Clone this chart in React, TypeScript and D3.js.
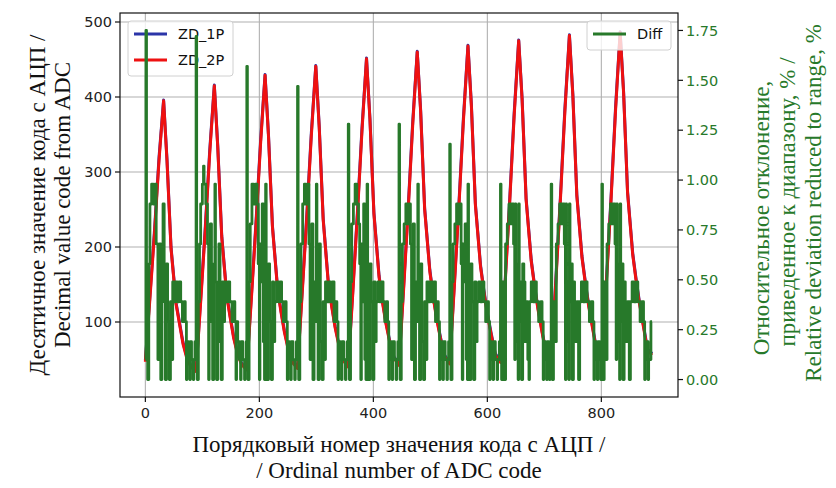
import React from "react";
import * as d3 from "d3";

// ZD_1P / ZD_2P: ADC code, sampled at these indices
const zdX = [
  0, 8, 16, 24, 32, 38, 45, 54, 60, 66, 73, 80,
  89, 97, 105, 113, 121, 127, 134, 143, 149, 155, 162, 169,
  178, 186, 194, 202, 210, 216, 223, 232, 238, 244, 251, 258,
  267, 275, 283, 291, 299, 305, 312, 321, 327, 333, 340, 347,
  356, 364, 372, 380, 388, 394, 401, 410, 416, 422, 429, 436,
  445, 453, 461, 469, 477, 483, 490, 499, 505, 511, 518, 525,
  534, 542, 550, 558, 566, 572, 579, 588, 594, 600, 607, 614,
  623, 631, 639, 647, 655, 661, 668, 677, 683, 689, 696, 703,
  712, 720, 728, 736, 744, 750, 757, 766, 772, 778, 785, 792,
  801, 809, 817, 825, 833, 839, 846, 855, 861, 867, 874, 881,
  889,
];

const zd1P = [
  49, 135, 222, 320, 396, 316, 200, 125, 99, 73, 53, 42,
  36, 130, 225, 330, 416, 335, 215, 135, 107, 80, 58, 45,
  38, 135, 232, 340, 430, 350, 228, 145, 115, 88, 64, 48,
  40, 140, 240, 350, 442, 362, 238, 153, 122, 94, 69, 51,
  42, 143, 246, 358, 452, 372, 246, 162, 128, 100, 74, 54,
  44, 146, 251, 366, 461, 382, 252, 170, 135, 106, 79, 56,
  46, 150, 256, 372, 469, 390, 258, 176, 142, 112, 84, 58,
  48, 152, 260, 378, 476, 398, 265, 183, 148, 118, 88, 60,
  49, 155, 264, 384, 483, 404, 270, 188, 153, 122, 92, 62,
  50, 157, 266, 387, 487, 408, 274, 192, 157, 126, 95, 64,
  58,
];

const zd2P = [
  47, 131, 218, 316, 395, 314, 198, 123, 97, 71, 51, 40,
  34, 126, 221, 326, 415, 333, 213, 133, 105, 78, 56, 43,
  36, 131, 228, 336, 429, 348, 226, 143, 113, 86, 62, 46,
  38, 136, 236, 346, 441, 360, 236, 151, 120, 92, 67, 49,
  40, 139, 242, 354, 451, 370, 244, 160, 126, 98, 72, 52,
  42, 142, 247, 362, 460, 380, 250, 168, 133, 104, 77, 54,
  44, 146, 252, 368, 468, 388, 256, 174, 140, 110, 82, 56,
  46, 148, 256, 374, 475, 396, 263, 181, 146, 116, 86, 58,
  47, 151, 260, 380, 482, 402, 268, 186, 151, 120, 90, 60,
  48, 153, 262, 383, 486, 406, 272, 190, 155, 124, 93, 62,
  56,
];

// Diff, %: [index where value changes, value]
const diffPoints: [number, number][] = [
  [0, 0.1], [1, 1.75], [2, 0.29], [4, 0], [6, 0.58], [8, 0.88], [11, 0.98], [14, 0.88], [17, 0.98], [19, 0.68],
  [22, 0.1], [23, 0.58], [25, 0.68], [27, 0], [29, 0.49], [31, 0.88], [33, 0.39], [35, 0], [37, 0.58], [39, 0.29],
  [42, 0], [44, 0.39], [46, 0.1], [48, 0.49], [51, 0.39], [53, 0.49], [56, 0.39], [59, 0.49], [62, 0.39], [65, 0.29],
  [68, 0.39], [70, 0.29], [72, 0], [73, 0.19], [76, 0.1], [78, 0], [79, 0.19], [81, 0.1], [84, 0], [85, 0.1], [87, 0.19],

  [89, 1.72], [90, 0.19], [91, 0], [93, 0.39], [95, 0.68], [97, 0.88], [100, 0.98], [102, 1.07], [103, 0.98], [106, 0.88],
  [109, 0.68], [111, 0], [112, 0.58], [114, 0.78], [116, 0.29], [118, 0], [120, 0.58], [122, 0.98], [123, 0.49], [125, 0],
  [127, 0.39], [129, 0.68], [131, 0.19], [133, 0], [135, 0.49], [137, 0.29], [139, 0.49], [142, 0.39], [145, 0.49], [148, 0.39],
  [152, 0.29], [155, 0.39], [157, 0.29], [159, 0], [160, 0.29], [162, 0.19], [165, 0.1], [167, 0], [168, 0.19], [171, 0.1],
  [174, 0], [175, 0.1], [177, 0.19],

  [178, 1.57], [179, 0.1], [180, 0], [182, 0.49], [184, 0.78], [187, 0.98], [190, 0.88], [193, 0.98], [196, 0.88], [198, 0.58],
  [200, 0], [201, 0.68], [203, 0.49], [205, 0.88], [207, 0.19], [209, 0], [211, 0.98], [212, 0.39], [214, 0], [216, 0.58],
  [218, 0.29], [221, 0], [223, 0.49], [225, 0.19], [227, 0.39], [230, 0.49], [233, 0.39], [236, 0.49], [239, 0.39], [242, 0.29],
  [245, 0.39], [247, 0.29], [249, 0], [250, 0.19], [253, 0.1], [255, 0], [256, 0.19], [259, 0.1], [262, 0], [263, 0.1], [265, 0.19],

  [267, 1.47], [268, 0.19], [269, 0], [271, 0.39], [273, 0.68], [276, 0.88], [279, 0.98], [282, 0.88], [285, 0.98], [287, 0.68],
  [289, 0.1], [290, 0.58], [292, 0.78], [294, 0], [296, 0.49], [298, 0.29], [300, 0.98], [301, 0.49], [303, 0], [305, 0.68],
  [307, 0.19], [310, 0], [312, 0.39], [314, 0.1], [316, 0.49], [319, 0.39], [322, 0.49], [325, 0.39], [328, 0.49], [331, 0.29],
  [334, 0.39], [336, 0.29], [338, 0], [339, 0.19], [342, 0.1], [344, 0], [345, 0.19], [348, 0.1], [351, 0], [352, 0.1], [354, 0.19],

  [356, 1.28], [357, 0.1], [358, 0], [360, 0.49], [362, 0.78], [365, 0.88], [368, 0.98], [371, 0.88], [374, 0.78], [376, 0.58],
  [378, 0], [379, 0.68], [381, 0.39], [383, 0.88], [385, 0.1], [387, 0], [389, 0.98], [390, 0.29], [392, 0], [394, 0.58],
  [396, 0.39], [399, 0], [401, 0.49], [403, 0.19], [405, 0.39], [408, 0.49], [411, 0.39], [414, 0.49], [417, 0.39], [420, 0.29],
  [423, 0.39], [425, 0.29], [427, 0], [428, 0.19], [431, 0.1], [433, 0], [434, 0.19], [437, 0.1], [440, 0], [441, 0.1], [443, 0.19],

  [445, 1.28], [446, 0.19], [447, 0], [449, 0.39], [451, 0.68], [454, 0.78], [457, 0.88], [460, 0.78], [463, 0.88], [465, 0.68],
  [467, 0.1], [468, 0.58], [470, 0.78], [472, 0], [474, 0.49], [476, 0.29], [478, 0.98], [479, 0.39], [481, 0], [483, 0.58],
  [485, 0.19], [488, 0], [490, 0.39], [492, 0.1], [494, 0.49], [497, 0.39], [500, 0.49], [503, 0.39], [506, 0.49], [509, 0.29],
  [512, 0.39], [514, 0.29], [516, 0], [517, 0.19], [520, 0.1], [522, 0], [523, 0.19], [526, 0.1], [529, 0], [530, 0.1], [532, 0.19],

  [534, 1.18], [535, 0.1], [536, 0], [538, 0.49], [540, 0.68], [543, 0.78], [546, 0.88], [549, 0.78], [552, 0.88], [554, 0.58],
  [556, 0], [557, 0.68], [559, 0.49], [561, 0.78], [563, 0.1], [565, 0], [566, 0.98], [567, 0.29], [569, 0], [571, 0.58],
  [573, 0.39], [576, 0], [578, 0.49], [580, 0.19], [582, 0.39], [585, 0.49], [588, 0.39], [591, 0.49], [594, 0.39], [597, 0.29],
  [600, 0.39], [602, 0.29], [604, 0], [605, 0.19], [608, 0.1], [610, 0], [611, 0.19], [614, 0.1], [617, 0], [618, 0.1], [621, 0.19],

  [623, 0.98], [624, 0.19], [625, 0], [627, 0.49], [629, 0], [632, 0.68], [635, 0.78], [638, 0.88], [641, 0.78], [643, 0.88],
  [646, 0.68], [648, 0.1], [649, 0.88], [650, 0.58], [652, 0.19], [654, 0], [655, 0.88], [656, 0.29], [658, 0.49], [660, 0],
  [662, 0.58], [664, 0.49], [666, 0.19], [668, 0.39], [671, 0.1], [673, 0], [674, 0.39], [677, 0.49], [680, 0.39], [684, 0.49],
  [686, 0.39], [690, 0.29], [694, 0.39], [696, 0.29], [698, 0], [699, 0.19], [702, 0.1], [704, 0], [705, 0.19], [708, 0.1],
  [709, 0], [710, 0.1],

  [712, 0.98], [713, 0.1], [714, 0], [716, 0.39], [718, 0.19], [721, 0.68], [724, 0.78], [727, 0.88], [730, 0.78], [732, 0.88],
  [735, 0.68], [737, 0], [738, 0.88], [739, 0.49], [741, 0.19], [743, 0], [744, 0.88], [745, 0.39], [747, 0.58], [749, 0],
  [751, 0.49], [753, 0.29], [755, 0.19], [757, 0.39], [760, 0], [762, 0.39], [765, 0.49], [768, 0.39], [772, 0.49], [775, 0.39],
  [779, 0.29], [782, 0.39], [785, 0.29], [787, 0], [788, 0.19], [791, 0.1], [793, 0], [794, 0.19], [797, 0.1], [799, 0], [800, 0.1],

  [801, 0.98], [802, 0.19], [803, 0], [805, 0.49], [807, 0.1], [810, 0.68], [813, 0.78], [816, 0.88], [819, 0.78], [821, 0.88],
  [824, 0.68], [826, 0.1], [827, 0.88], [828, 0.58], [830, 0.19], [832, 0], [833, 0.88], [834, 0.29], [836, 0.58], [838, 0],
  [840, 0.49], [842, 0.29], [844, 0.19], [846, 0.39], [849, 0], [851, 0.39], [854, 0.49], [857, 0.39], [861, 0.49], [864, 0.39],
  [868, 0.29], [871, 0.39], [874, 0.29], [876, 0], [877, 0.1], [880, 0.19], [882, 0], [883, 0.1], [886, 0.1], [887, 0.29], [889, 0.29],
];

const xTicks = [0, 200, 400, 600, 800];
const leftTicks = [100, 200, 300, 400, 500];
const rightTicks = [0, 0.25, 0.5, 0.75, 1.0, 1.25, 1.5, 1.75];

const W = 836;
const H = 488;
const box = { left: 120, top: 13, right: 678, bottom: 397 };

const BLUE = "#2b35a8";
const RED = "#ee1111";
const GREEN = "#27792a";
const tickFont = "'DejaVu Sans', sans-serif";
const labelFont = "'Liberation Serif', 'Times New Roman', serif";

export default function App() {
  const x = d3.scaleLinear().domain([-44.5, 934.5]).range([box.left, box.right]);
  const yL = d3.scaleLinear().domain([0, 512]).range([box.bottom, box.top]);
  const yR = d3.scaleLinear().domain([-0.0875, 1.8375]).range([box.bottom, box.top]);

  const zdLine = d3
    .line<number>()
    .x((_, i) => x(zdX[i]))
    .y((d) => yL(d));

  const diffLine = d3
    .line<[number, number]>()
    .x((d) => x(d[0]))
    .y((d) => yR(d[1]))
    .curve(d3.curveStepAfter);

  const cy = (box.top + box.bottom) / 2;
  const cx = (box.left + box.right) / 2;

  return (
    <>
      <style>{"body{margin:0}"}</style>
      <svg width={W} height={H} style={{ display: "block", background: "#fff" }}>
        <defs>
          <clipPath id="plotClip">
            <rect x={box.left} y={box.top} width={box.right - box.left} height={box.bottom - box.top} />
          </clipPath>
        </defs>

        {/* grid */}
        <g stroke="#b0b0b0" strokeWidth={1.1}>
          {xTicks.map((t) => (
            <line key={"gx" + t} x1={x(t)} x2={x(t)} y1={box.top} y2={box.bottom} />
          ))}
          {leftTicks.map((t) => (
            <line key={"gy" + t} x1={box.left} x2={box.right} y1={yL(t)} y2={yL(t)} />
          ))}
        </g>

        {/* ADC codes */}
        <g clipPath="url(#plotClip)" fill="none" strokeWidth={3} strokeLinejoin="round">
          <path d={zdLine(zd1P) || ""} stroke={BLUE} />
          <path d={zdLine(zd2P) || ""} stroke={RED} />
        </g>

        {/* legend of left axis */}
        <g>
          <rect x={128} y={21} width={105} height={55} rx={3} fill="#fff" fillOpacity={0.8} stroke="#d0d0d0" />
          <line x1={134} x2={167} y1={34} y2={34} stroke={BLUE} strokeWidth={3} />
          <line x1={134} x2={167} y1={60} y2={60} stroke={RED} strokeWidth={3} />
          <text x={178} y={34} dy="0.36em" fontFamily={tickFont} fontSize={14.5} fill="#111">ZD_1P</text>
          <text x={178} y={60} dy="0.36em" fontFamily={tickFont} fontSize={14.5} fill="#111">ZD_2P</text>
        </g>

        {/* relative deviation */}
        <path
          d={diffLine(diffPoints) || ""}
          clipPath="url(#plotClip)"
          fill="none"
          stroke={GREEN}
          strokeWidth={2.8}
          strokeLinejoin="round"
        />

        {/* legend of right axis */}
        <g>
          <rect x={587} y={21} width={84} height={29} rx={3} fill="#fff" fillOpacity={0.8} stroke="#d0d0d0" />
          <line x1={593} x2={626} y1={34} y2={34} stroke={GREEN} strokeWidth={3} />
          <text x={637} y={34} dy="0.36em" fontFamily={tickFont} fontSize={14.5} fill="#111">Diff</text>
        </g>

        {/* frame */}
        <rect
          x={box.left}
          y={box.top}
          width={box.right - box.left}
          height={box.bottom - box.top}
          fill="none"
          stroke="#111"
          strokeWidth={1.2}
        />

        {/* x axis */}
        <g fontFamily={tickFont} fontSize={14.5} fill="#222">
          {xTicks.map((t) => (
            <g key={"xt" + t}>
              <line x1={x(t)} x2={x(t)} y1={box.bottom} y2={box.bottom + 5} stroke="#111" strokeWidth={1.2} />
              <text x={x(t)} y={box.bottom + 21} textAnchor="middle">{t}</text>
            </g>
          ))}
        </g>

        {/* left axis */}
        <g fontFamily={tickFont} fontSize={14.5} fill="#222">
          {leftTicks.map((t) => (
            <g key={"lt" + t}>
              <line x1={box.left - 5} x2={box.left} y1={yL(t)} y2={yL(t)} stroke="#111" strokeWidth={1.2} />
              <text x={box.left - 8} y={yL(t)} dy="0.36em" textAnchor="end">{t}</text>
            </g>
          ))}
        </g>

        {/* right axis */}
        <g fontFamily={tickFont} fontSize={14.5} fill={GREEN}>
          {rightTicks.map((t) => (
            <g key={"rt" + t}>
              <line x1={box.right} x2={box.right + 5} y1={yR(t)} y2={yR(t)} stroke="#111" strokeWidth={1.2} />
              <text x={box.right + 8} y={yR(t)} dy="0.36em" textAnchor="start">{d3.format(".2f")(t)}</text>
            </g>
          ))}
        </g>

        {/* axis titles */}
        <g fontFamily={labelFont} fontSize={23} fill="#111" textAnchor="middle">
          <text x={cx} y={452}>Порядковый номер значения кода с АЦП /</text>
          <text x={cx} y={478}>/ Ordinal number of ADC code</text>
          <text transform={`translate(38,${cy}) rotate(-90)`} dy="0.32em">Десятичное значение кода с АЦП /</text>
          <text transform={`translate(63,${cy}) rotate(-90)`} dy="0.32em">Decimal value code from ADC</text>
        </g>
        <g fontFamily={labelFont} fontSize={23} fill={GREEN} textAnchor="middle">
          <text transform={`translate(762,${cy + 13}) rotate(-90)`} dy="0.32em">Относительное отклонение,</text>
          <text transform={`translate(788,${cy - 3}) rotate(-90)`} dy="0.32em">приведенное к диапазону, % /</text>
          <text transform={`translate(814,${cy - 2}) rotate(-90)`} dy="0.32em">Relative deviation reduced to range, %</text>
        </g>
      </svg>
    </>
  );
}
